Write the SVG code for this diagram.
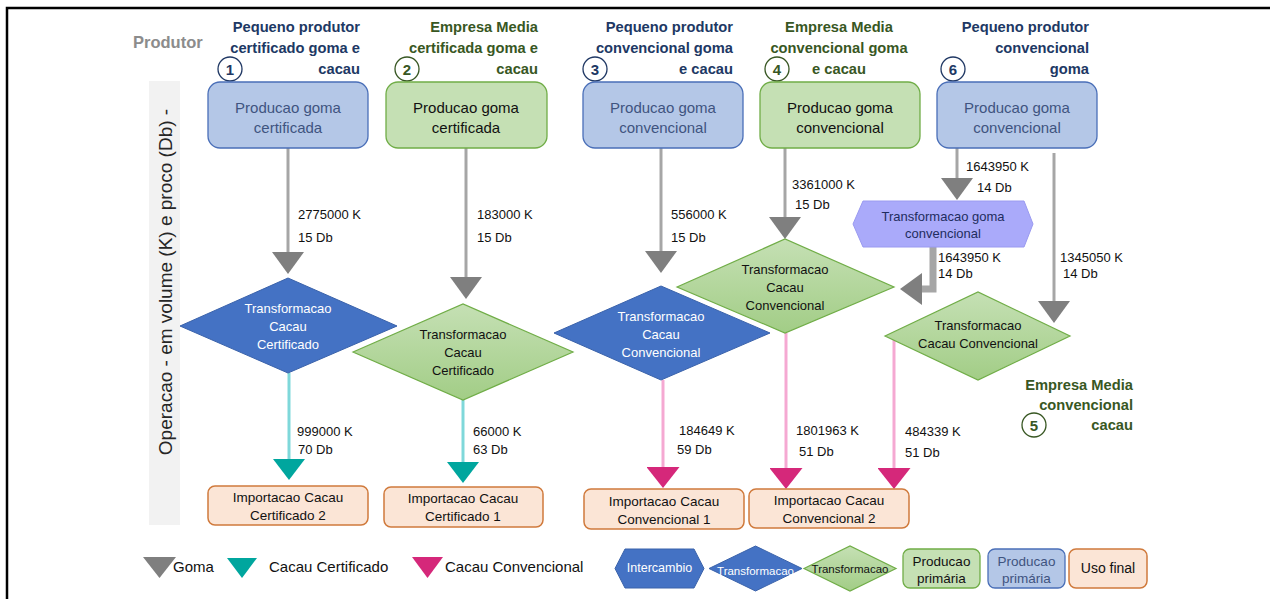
<svg xmlns="http://www.w3.org/2000/svg" width="1270" height="599" viewBox="0 0 1270 599">
<style>
text{font-family:"Liberation Sans",Arial,sans-serif;dominant-baseline:central}
.hdn{font-size:14.7px;font-weight:bold;fill:#203864}
.hdg{font-size:14.7px;font-weight:bold;fill:#385723}
.num{font-size:15px;font-weight:bold;text-anchor:middle}
.cn{fill:#fff;stroke:#203864;stroke-width:1.3}
.cg{fill:#fff;stroke:#385723;stroke-width:1.3}
.bbox{fill:#b4c7e7;stroke:#4a6fb8;stroke-width:1.3}
.gbox{fill:#c5e0b4;stroke:#70ad47;stroke-width:1.3}
.obox{fill:#fbe5d6;stroke:#d07a3c;stroke-width:1.5}
.bt{font-size:15px;fill:#3f5480;text-anchor:middle}
.gt{font-size:15px;fill:#111;text-anchor:middle}
.ot{font-size:13.5px;fill:#111;text-anchor:middle}
.bd{fill:#4472c4;stroke:#3a62aa;stroke-width:1}
.gd{fill:url(#gg);stroke:#70ad47;stroke-width:1.2}
.bdt{font-size:13px;fill:#fff;text-anchor:middle}
.gdt{font-size:13px;fill:#111;text-anchor:middle}
.lbl{font-size:13px;fill:#111}
.gray{fill:none;stroke:#a6a6a6;stroke-width:3;marker-end:url(#hg)}
.teal{fill:none;stroke:#7fd8da;stroke-width:3;marker-end:url(#ht)}
.pink{fill:none;stroke:#f5a9d2;stroke-width:3;marker-end:url(#hp)}
.leg{font-size:15px;fill:#111}
</style>
<defs>
<linearGradient id="gg" x1="0" y1="0" x2="0" y2="1">
<stop offset="0" stop-color="#c5e0b4"/>
<stop offset="1" stop-color="#a2cd86"/>
</linearGradient>
<marker id="hg" markerUnits="userSpaceOnUse" markerWidth="22" markerHeight="32" viewBox="0 0 22 32" refX="0" refY="16" orient="auto">
<path d="M0,0 L22,16 L0,32 Z" fill="#7f7f7f"/>
</marker>
<marker id="ht" markerUnits="userSpaceOnUse" markerWidth="21" markerHeight="32" viewBox="0 0 21 32" refX="0" refY="16" orient="auto">
<path d="M0,0 L21,16 L0,32 Z" fill="#00a69e"/>
</marker>
<marker id="hp" markerUnits="userSpaceOnUse" markerWidth="21" markerHeight="33" viewBox="0 0 21 33" refX="0" refY="16.5" orient="auto">
<path d="M0,0 L21,16.5 L0,33 Z" fill="#d5287a"/>
</marker>
</defs>

<rect width="1270" height="599" fill="#fff"/>
<path d="M7,599 V8 H1270" fill="none" stroke="#000" stroke-width="2.5"/>

<g id="axis">
<rect x="149" y="81" width="31" height="444" fill="#f2f2f2"/>
<text transform="translate(165,282) rotate(-90)" text-anchor="middle" style="font-size:19px;fill:#262626">Operacao - em volume (K) e proco (Db) -</text>
<text x="133" y="42" style="font-size:16.5px;font-weight:bold;fill:#8c8c8c">Produtor</text>
</g>

<g id="connectors">
<path class="gray" d="M288,148 V252"/>
<path class="gray" d="M466,148 V277"/>
<path class="gray" d="M661,148 V251"/>
<path class="gray" d="M785,148 V217"/>
<path class="gray" d="M957,148 V178"/>
<path d="M933,247 V289 H922" fill="none" stroke="#a6a6a6" stroke-width="7" marker-end="url(#hg)"/>
<path class="gray" d="M1054,153 V301"/>
<path class="teal" d="M289,373 V459"/>
<path class="teal" d="M463,400 V462"/>
<path class="pink" d="M663,380 V467"/>
<path class="pink" d="M786,333 V468"/>
<path class="pink" d="M894,340 V468"/>
<text class="lbl" x="298" y="214">2775000 K</text>
<text class="lbl" x="298" y="237">15 Db</text>
<text class="lbl" x="477" y="214">183000 K</text>
<text class="lbl" x="477" y="237">15 Db</text>
<text class="lbl" x="671" y="214">556000 K</text>
<text class="lbl" x="671" y="237">15 Db</text>
<text class="lbl" x="792" y="184">3361000 K</text>
<text class="lbl" x="795" y="204">15 Db</text>
<text class="lbl" x="966" y="166">1643950 K</text>
<text class="lbl" x="977" y="187">14 Db</text>
<text class="lbl" x="938" y="257">1643950 K</text>
<text class="lbl" x="938" y="273">14 Db</text>
<text class="lbl" x="1060" y="257">1345050 K</text>
<text class="lbl" x="1063" y="273">14 Db</text>
<text class="lbl" x="297" y="431">999000 K</text>
<text class="lbl" x="298" y="449">70 Db</text>
<text class="lbl" x="473" y="431">66000 K</text>
<text class="lbl" x="473" y="449">63 Db</text>
<text class="lbl" x="679" y="430">184649 K</text>
<text class="lbl" x="677" y="449">59 Db</text>
<text class="lbl" x="796" y="430">1801963 K</text>
<text class="lbl" x="799" y="451">51 Db</text>
<text class="lbl" x="905" y="431">484339 K</text>
<text class="lbl" x="905" y="452">51 Db</text>
</g>

<g id="producer1">
<text class="hdn" text-anchor="end" x="360" y="27">Pequeno produtor</text>
<text class="hdn" text-anchor="end" x="360" y="48">certificado goma e</text>
<text class="hdn" text-anchor="end" x="360" y="69">cacau</text>
<circle class="cn" cx="230" cy="69" r="12"/>
<text class="num" x="230" y="69" fill="#203864">1</text>
</g>
<g id="producer2">
<text class="hdg" text-anchor="end" x="538" y="27">Empresa Media</text>
<text class="hdg" text-anchor="end" x="538" y="48">certificada goma e</text>
<text class="hdg" text-anchor="end" x="538" y="69">cacau</text>
<circle class="cg" cx="407" cy="69" r="12"/>
<text class="num" x="407" y="69" fill="#385723">2</text>
</g>
<g id="producer3">
<text class="hdn" text-anchor="end" x="733" y="27">Pequeno produtor</text>
<text class="hdn" text-anchor="end" x="733" y="48">convencional goma</text>
<text class="hdn" text-anchor="end" x="733" y="69">e cacau</text>
<circle class="cn" cx="595" cy="69" r="12"/>
<text class="num" x="595" y="69" fill="#203864">3</text>
</g>
<g id="producer4">
<text class="hdg" text-anchor="middle" x="839" y="27">Empresa Media</text>
<text class="hdg" text-anchor="middle" x="839" y="48">convencional goma</text>
<text class="hdg" text-anchor="middle" x="839" y="69">e cacau</text>
<circle class="cg" cx="777" cy="69" r="12"/>
<text class="num" x="777" y="69" fill="#385723">4</text>
</g>
<g id="producer6">
<text class="hdn" text-anchor="end" x="1089" y="27">Pequeno produtor</text>
<text class="hdn" text-anchor="end" x="1089" y="48">convencional</text>
<text class="hdn" text-anchor="end" x="1089" y="69">goma</text>
<circle class="cn" cx="953" cy="69" r="12"/>
<text class="num" x="953" y="69" fill="#203864">6</text>
</g>
<g id="producer5">
<text class="hdg" text-anchor="end" x="1133" y="385">Empresa Media</text>
<text class="hdg" text-anchor="end" x="1133" y="405">convencional</text>
<text class="hdg" text-anchor="end" x="1133" y="425">cacau</text>
<circle class="cg" cx="1034" cy="425" r="12"/>
<text class="num" x="1034" y="425" fill="#385723">5</text>
</g>

<g id="box1">
<rect class="bbox" x="208" y="82" width="160" height="66" rx="12"/>
<text class="bt" x="288" y="107">Producao goma</text>
<text class="bt" x="288" y="127">certificada</text>
</g>
<g id="box2">
<rect class="gbox" x="386" y="82" width="161" height="66" rx="12"/>
<text class="gt" x="466" y="107">Producao goma</text>
<text class="gt" x="466" y="127">certificada</text>
</g>
<g id="box3">
<rect class="bbox" x="583" y="82" width="160" height="66" rx="12"/>
<text class="bt" x="663" y="107">Producao goma</text>
<text class="bt" x="663" y="127">convencional</text>
</g>
<g id="box4">
<rect class="gbox" x="760" y="82" width="160" height="66" rx="12"/>
<text class="gt" x="840" y="107">Producao goma</text>
<text class="gt" x="840" y="127">convencional</text>
</g>
<g id="box6">
<rect class="bbox" x="937" y="82" width="160" height="66" rx="12"/>
<text class="bt" x="1017" y="107">Producao goma</text>
<text class="bt" x="1017" y="127">convencional</text>
</g>

<g id="hexGoma">
<polygon points="853,224 863,201 1024,201 1033,224 1024,247 863,247" fill="#aaaafa" stroke="#9a9af0" stroke-width="1"/>
<text x="943" y="216" text-anchor="middle" style="font-size:13px;fill:#1f2d5e">Transformacao goma</text>
<text x="943" y="233" text-anchor="middle" style="font-size:13px;fill:#1f2d5e">convencional</text>
</g>

<g id="diamond1">
<polygon class="bd" points="180,326 288,278 397,326 288,373"/>
<text class="bdt" x="288" y="308">Transformacao</text>
<text class="bdt" x="288" y="326">Cacau</text>
<text class="bdt" x="288" y="344">Certificado</text>
</g>
<g id="diamond2">
<polygon class="gd" points="353,352 463,304 573,352 463,400"/>
<text class="gdt" x="463" y="334">Transformacao</text>
<text class="gdt" x="463" y="352">Cacau</text>
<text class="gdt" x="463" y="370">Certificado</text>
</g>
<g id="diamond4">
<polygon class="gd" points="677,287 785,239 894,287 785,333"/>
<text class="gdt" x="785" y="269">Transformacao</text>
<text class="gdt" x="785" y="287">Cacau</text>
<text class="gdt" x="785" y="305">Convencional</text>
</g>
<g id="diamond3">
<polygon class="bd" points="554,333 661,286 770,333 661,380"/>
<text class="bdt" x="661" y="316">Transformacao</text>
<text class="bdt" x="661" y="334">Cacau</text>
<text class="bdt" x="661" y="352">Convencional</text>
</g>
<g id="diamond5">
<polygon class="gd" points="885,336 978,292 1070,336 978,380"/>
<text class="gdt" x="978" y="325">Transformacao</text>
<text class="gdt" x="978" y="343">Cacau Convencional</text>
</g>

<g id="import2">
<rect class="obox" x="208" y="486" width="160" height="39" rx="7"/>
<text class="ot" x="288" y="497">Importacao Cacau</text>
<text class="ot" x="288" y="515">Certificado 2</text>
</g>
<g id="import1">
<rect class="obox" x="384" y="487" width="159" height="40" rx="7"/>
<text class="ot" x="463" y="498">Importacao Cacau</text>
<text class="ot" x="463" y="516">Certificado 1</text>
</g>
<g id="importConv1">
<rect class="obox" x="584" y="489" width="160" height="40" rx="7"/>
<text class="ot" x="664" y="501">Importacao Cacau</text>
<text class="ot" x="664" y="519">Convencional 1</text>
</g>
<g id="importConv2">
<rect class="obox" x="749" y="489" width="160" height="39" rx="7"/>
<text class="ot" x="829" y="500">Importacao Cacau</text>
<text class="ot" x="829" y="518">Convencional 2</text>
</g>

<g id="legend">
<polygon points="143,557 176,557 159.5,578" fill="#7f7f7f"/>
<text class="leg" x="173" y="566">Goma</text>
<polygon points="227,558 257,558 242,578" fill="#00a69e"/>
<text class="leg" x="269" y="566">Cacau Certificado</text>
<polygon points="412,557 443,557 427.5,578" fill="#d5287a"/>
<text class="leg" x="445" y="566">Cacau Convencional</text>
<polygon points="615,568.5 625,549 694,549 704,568.5 694,588 625,588" fill="#4472c4" stroke="#3a62aa" stroke-width="1"/>
<text x="659.5" y="568" text-anchor="middle" style="font-size:12.5px;fill:#fff">Intercambio</text>
<polygon class="bd" points="709,568.5 755.5,546 802,568.5 755.5,591"/>
<text x="755.5" y="571" text-anchor="middle" style="font-size:11.5px;fill:#fff">Transformacao</text>
<polygon class="gd" points="804,568.5 850,546 896,568.5 850,591"/>
<text x="850" y="569" text-anchor="middle" style="font-size:11.5px;fill:#111">Transformacao</text>
<rect class="gbox" x="903" y="549" width="77" height="39" rx="7"/>
<text x="941.5" y="561" text-anchor="middle" style="font-size:13.5px;fill:#111">Producao</text>
<text x="941.5" y="578" text-anchor="middle" style="font-size:13.5px;fill:#111">primária</text>
<rect class="bbox" x="988" y="549" width="77" height="39" rx="7"/>
<text x="1026.5" y="561" text-anchor="middle" style="font-size:13.5px;fill:#3f5480">Producao</text>
<text x="1026.5" y="578" text-anchor="middle" style="font-size:13.5px;fill:#3f5480">primária</text>
<rect class="obox" x="1069" y="549" width="78" height="39" rx="7"/>
<text x="1108" y="568" text-anchor="middle" style="font-size:14px;fill:#111">Uso final</text>
</g>
</svg>
